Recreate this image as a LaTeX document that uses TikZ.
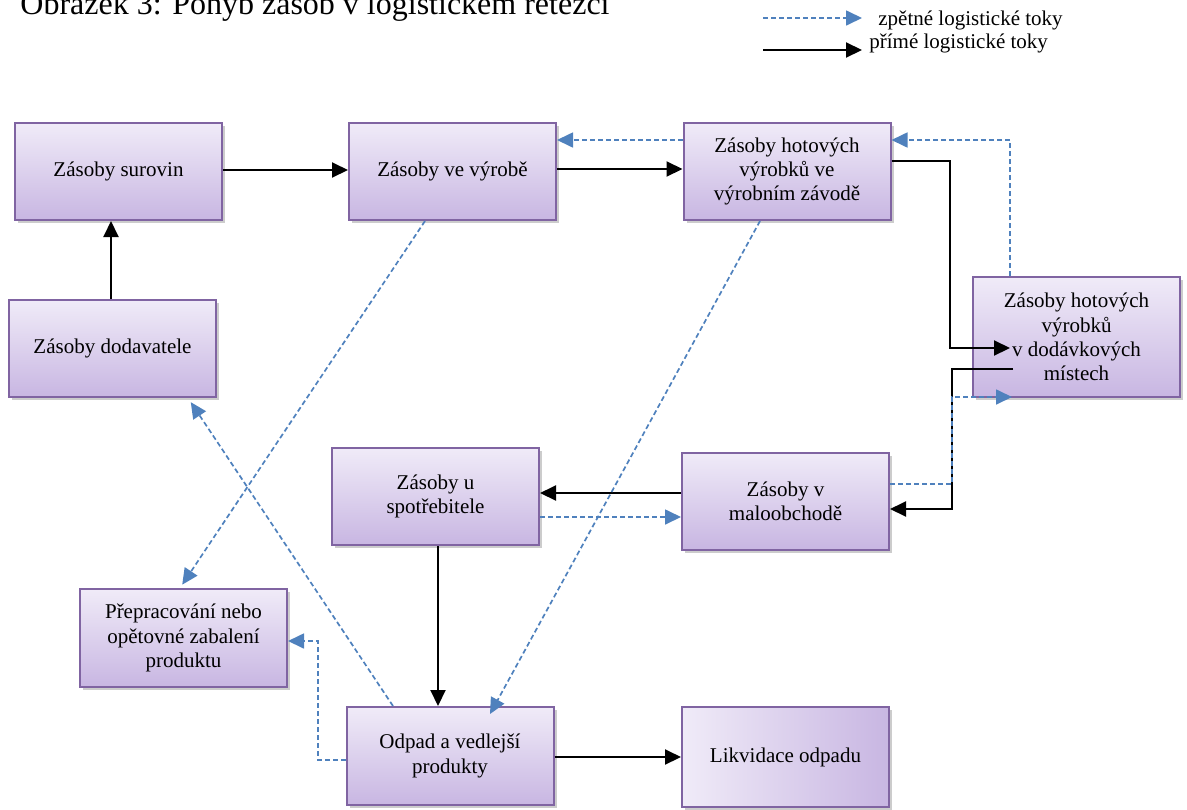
\documentclass[tikz,border=0pt]{standalone}
\usepackage{fontspec}
\setmainfont{Liberation Serif}
\usetikzlibrary{arrows.meta,shadows}
\definecolor{boxtop}{HTML}{F0EBF8}
\definecolor{boxbot}{HTML}{C8B6E2}
\definecolor{boxline}{HTML}{8064A2}
\definecolor{backflow}{HTML}{4F81BD}

\begin{document}
\begin{tikzpicture}[x=0.5pt,y=-0.5pt,
  stock/.style={draw=boxline, line width=1pt, top color=boxtop, bottom color=boxbot,
    minimum width=103.5pt, minimum height=48.5pt, align=center, inner sep=2pt,
    font=\fontsize{10.5}{12.2}\selectfont,
    drop shadow={shadow xshift=1.6pt, shadow yshift=-1.6pt, fill=black!40, opacity=0.5}},
  fwd/.style={draw=black, line width=1pt, -{Triangle[length=8pt,width=7.5pt]}},
  back/.style={draw=backflow, line width=0.85pt, dash pattern=on 2.5pt off 1.5pt,
    -{Triangle[length=8pt,width=7.5pt]}},
  legendtext/.style={anchor=base west, inner sep=0pt, font=\fontsize{10.5}{12}\selectfont},
]
\useasboundingbox (0,0) rectangle (1187,809);

% title
\node[anchor=base west, inner sep=0pt, font=\fontsize{16}{19}\selectfont] (title) at (20,14)
  {Obrázek 3: Pohyb zásob v logistickém řetězci};

% legend
\coordinate (lgA) at (763,18);
\coordinate (lgB) at (862,18);
\coordinate (lgC) at (763,50);
\coordinate (lgD) at (862,50);
\draw[back] (lgA) -- (lgB);
\draw[fwd] (lgC) -- (lgD);
\node[legendtext] (lgtA) at (878,25) {zpětné logistické toky};
\node[legendtext] (lgtB) at (869,48) {přímé logistické toky};

% stock boxes
\node[stock] (surovin) at (118.5,171.5) {Zásoby surovin};
\node[stock] (vyrobe) at (452.5,171.5) {Zásoby ve výrobě};
\node[stock] (zavod) at (787,171.5) {Zásoby hotových\\výrobků ve\\výrobním závodě};
\node[stock, minimum height=60pt] (dod) at (1076.5,337) {Zásoby hotových\\výrobků\\v dodávkových\\místech};
\node[stock] (dodav) at (112.5,348.5) {Zásoby dodavatele};
\node[stock] (spot) at (435.5,496.5) {Zásoby u\\spotřebitele};
\node[stock] (malo) at (785.5,501) {Zásoby v\\maloobchodě};
\node[stock, minimum height=49pt] (prep) at (183.5,638) {Přepracování nebo\\opětovné zabalení\\produktu};
\node[stock, minimum height=49pt] (odpad) at (450,756) {Odpad a vedlejší\\produkty};
\node[stock, minimum height=50pt, left color=boxtop, right color=boxbot] (likv) at (785.5,757) {Likvidace odpadu};

% points inside the delivery-point box where flows start or end
\coordinate (dodInA) at (1010,348);
\coordinate (dodOutA) at (1013,369);
\coordinate (dodInB) at (1012,397);

% forward flows
\draw[fwd] (surovin.east |- 0,170) -- (vyrobe.west |- 0,170);
\draw[fwd] (vyrobe.east |- 0,169) -- (zavod.west |- 0,169);
\draw[fwd] (dodav.north -| 111,0) -- (surovin.south -| 111,0);
\draw[fwd] (zavod.east |- 0,161) -| (950,348) -- (dodInA);
\draw[fwd] (dodOutA) -| (952,509) -- (malo.east |- 0,509);
\draw[fwd] (malo.west |- 0,493) -- (spot.east |- 0,493);
\draw[fwd] (spot.south -| 438,0) -- (odpad.north -| 438,0);
\draw[fwd] (odpad.east |- 0,757) -- (likv.west |- 0,757);

% reverse flows
\draw[back] (zavod.west |- 0,140) -- (vyrobe.east |- 0,140);
\draw[back] (dod.north -| 1010,0) |- (zavod.east |- 0,140);
\draw[back] (malo.east |- 0,484) -| (952,397) -- (dodInB);
\draw[back] (spot.east |- 0,517) -- (malo.west |- 0,517);
\draw[back, shorten >=2pt] (vyrobe.south -| 425,0) -- (prep.north -| 180,0);
\draw[back] (zavod.south -| 760,0) -- ([yshift=-4pt]odpad.north -| 490,0);
\draw[back, shorten >=2.5pt] (odpad.north -| 393,0) -- (dodav.south -| 188,0);
\draw[back] (odpad.west |- 0,760) -| (318,641) -- (prep.east |- 0,641);
\end{tikzpicture}
\end{document}
